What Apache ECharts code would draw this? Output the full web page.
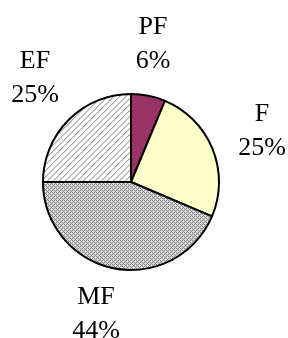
<!DOCTYPE html>
<html>
<head>
<meta charset="utf-8">
<script src="https://cdn.jsdelivr.net/npm/echarts@6/dist/echarts.min.js"></script>
<style>
    html, body { margin: 0; padding: 0; background: #fff; }
    #pieChart { width: 288px; height: 338px; }
</style>
</head>
<body>
<div id="pieChart"></div>
<script>
// 数据
let categories = ['PF', 'F', 'MF', 'EF'];
let values = [6.3, 25.1, 43.6, 25.0];

// 标签位置 (标签中心)
let labelPos = [[153, 44], [262, 131], [96, 314], [35, 78]];

// 填充图案
function makeDotPattern() {
    let c = document.createElement('canvas');
    c.width = 4; c.height = 4;
    let ctx = c.getContext('2d');
    ctx.fillStyle = '#d4d4d4';
    ctx.fillRect(0, 0, 4, 4);
    ctx.fillStyle = '#888888';
    for (let y = 0; y < 4; y++) {
        for (let x = 0; x < 4; x++) {
            if ((x + y) % 2 === 0) ctx.fillRect(x, y, 1, 1);
        }
    }
    ctx.fillStyle = '#ececec';
    ctx.fillRect(3, 1, 1, 1);
    ctx.fillRect(1, 3, 1, 1);
    return c;
}

function makeHatchPattern() {
    let c = document.createElement('canvas');
    c.width = 6; c.height = 6;
    let ctx = c.getContext('2d');
    ctx.fillStyle = '#ffffff';
    ctx.fillRect(0, 0, 6, 6);
    for (let i = 0; i < 6; i++) {
        // "/" 方向斜线
        ctx.fillStyle = '#a8a8a8';
        ctx.fillRect((5 - i + 6) % 6, i, 1, 1);
        ctx.fillStyle = '#d4d4d4';
        ctx.fillRect((6 - i + 6) % 6, i, 1, 1);
    }
    return c;
}

let fills = [
    '#993366',
    '#ffffcc',
    { image: makeDotPattern(), repeat: 'repeat' },
    { image: makeHatchPattern(), repeat: 'repeat' }
];

function initPieChart() {
    let pieChart = echarts.init(document.getElementById('pieChart'), null, { renderer: 'canvas' });

    let pieData = categories.map(function (name, i) {
        return { name: name, value: values[i], itemStyle: { color: fills[i] } };
    });

    let pieChartOption = {
        animation: false,
        series: [
            {
                type: 'pie',
                center: [131, 182],
                radius: [0, 88],
                startAngle: 90,
                clockwise: true,
                itemStyle: {
                    borderColor: '#000',
                    borderWidth: 2
                },
                label: {
                    show: true,
                    position: 'outside',
                    formatter: function (p) {
                        return p.name + '\n' + Math.round(p.percent) + '%';
                    },
                    fontFamily: 'Liberation Serif',
                    fontSize: 26,
                    lineHeight: 34,
                    color: '#000',
                    align: 'center',
                    overflow: 'none',
                    width: 80
                },
                labelLine: { show: false },
                labelLayout: function (params) {
                    let p = labelPos[params.dataIndex];
                    return { x: p[0], y: p[1], align: 'center', verticalAlign: 'middle', hideOverlap: false };
                },
                emphasis: { disabled: true },
                data: pieData
            }
        ]
    };

    pieChart.setOption(pieChartOption);
}

initPieChart();
</script>
</body>
</html>
